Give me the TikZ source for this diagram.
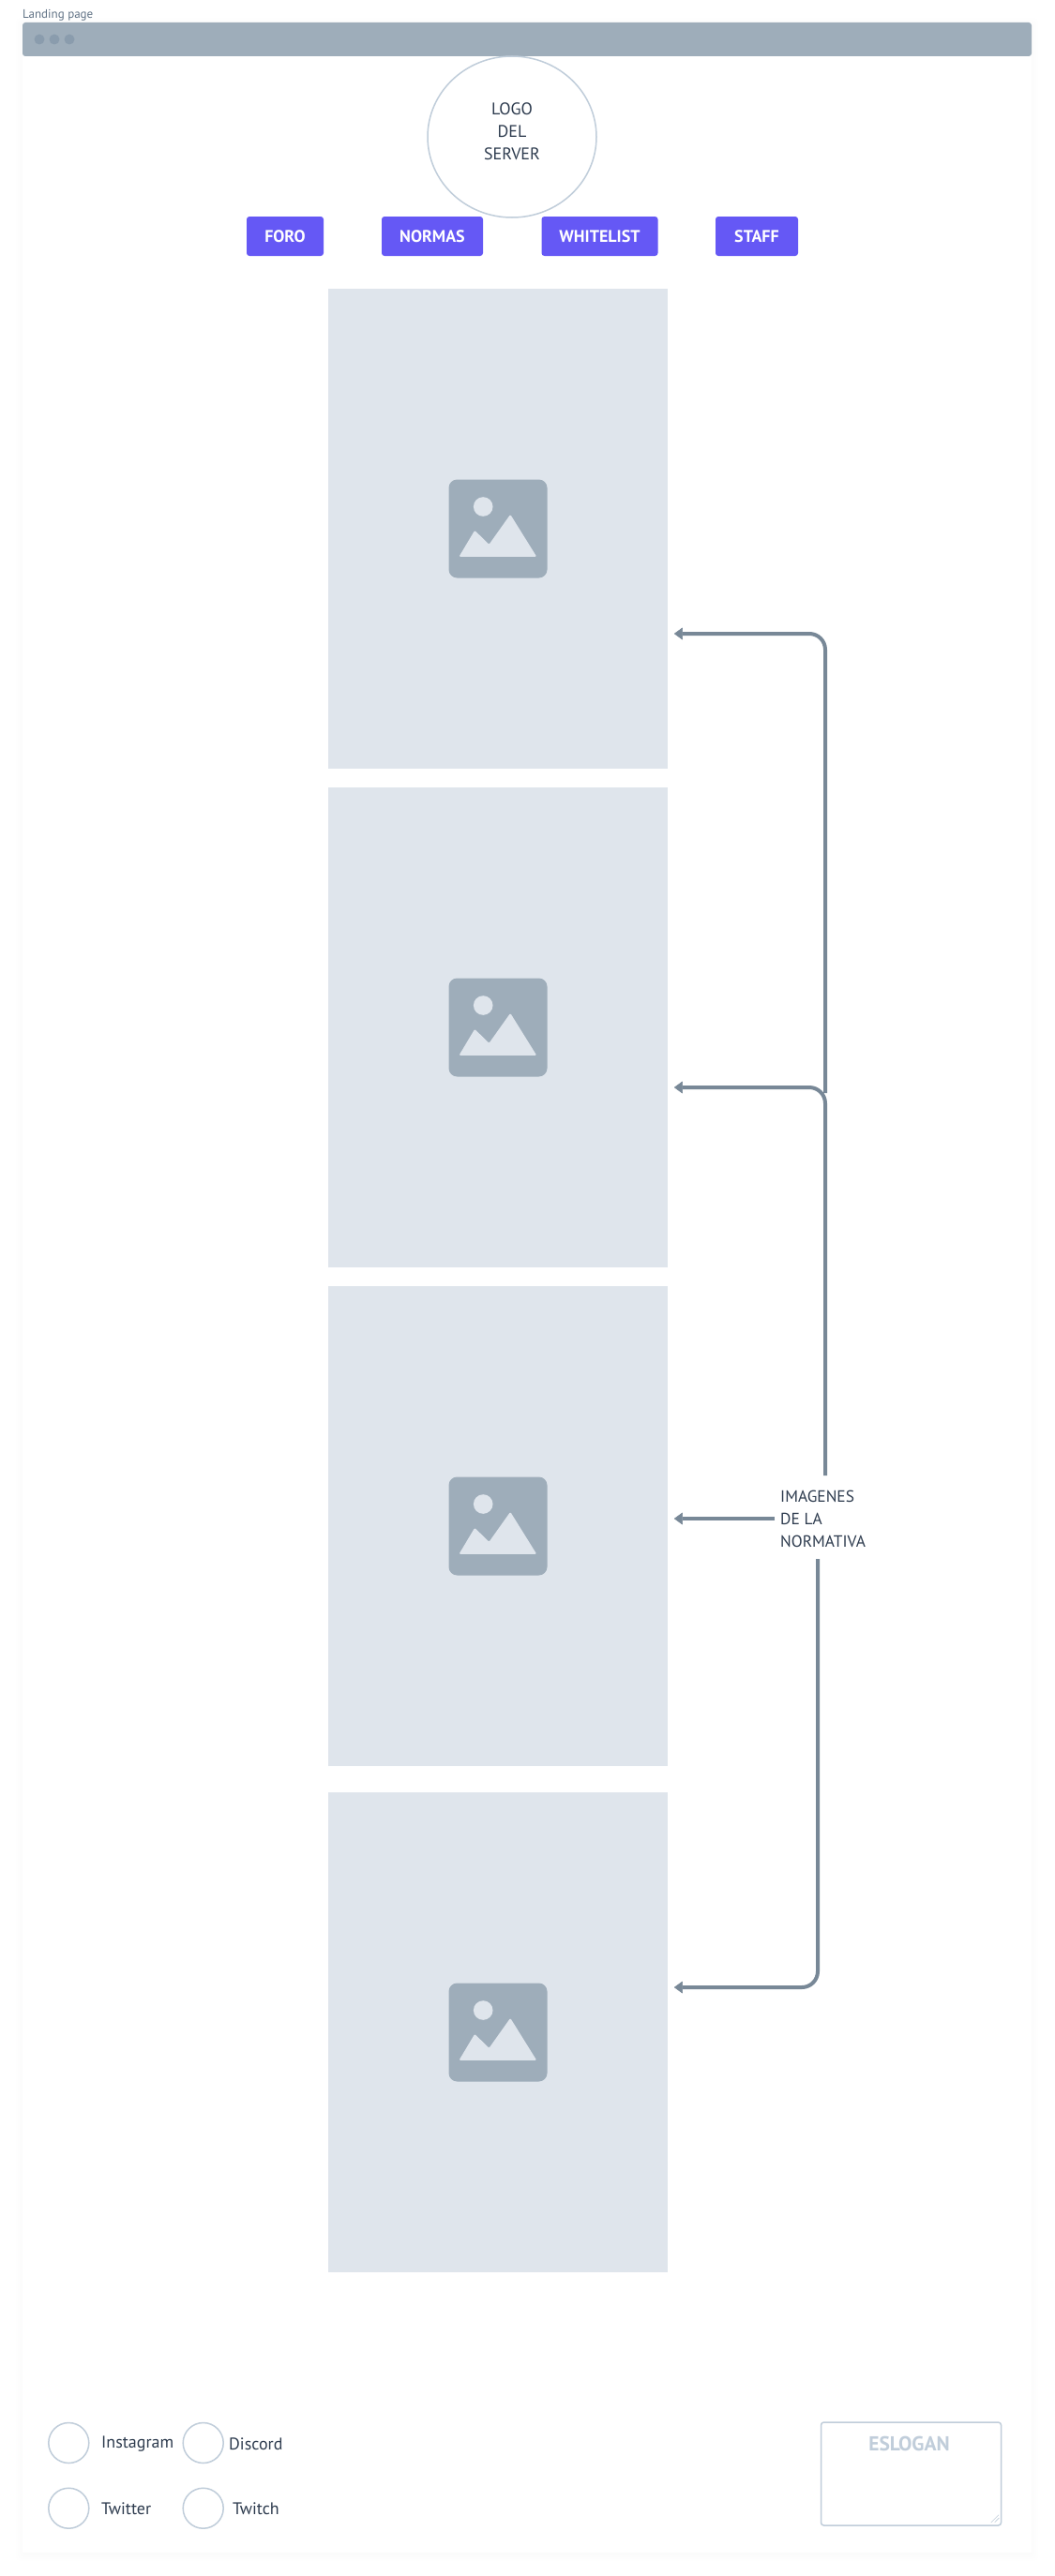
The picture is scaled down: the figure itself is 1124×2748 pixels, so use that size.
\documentclass[tikz,border=0pt]{standalone}
\usepackage{fontspec}
\setmainfont{PT Sans}
\usetikzlibrary{arrows.meta,shapes.geometric}
\definecolor{ink}{HTML}{2D3B4E}
\definecolor{bar}{HTML}{9EADBA}
\definecolor{dotc}{HTML}{8A9CAD}
\definecolor{btn}{HTML}{6558F5}
\definecolor{imgc}{HTML}{DFE5EC}
\definecolor{edge}{HTML}{C0CDDA}
\definecolor{conn}{HTML}{788897}
\definecolor{cap}{HTML}{5F7184}
\tikzset{
  x=1pt,y=-1pt,
  txt/.style={inner sep=0pt,text=ink,font=\fontsize{18}{24}\selectfont},
  btnbox/.style={fill=btn,rounded corners=3pt,minimum height=42pt,inner sep=0pt,text=white,font=\bfseries\fontsize{18}{20}\selectfont},
  imgbox/.style={rectangle,fill=imgc,minimum width=362pt,minimum height=512pt,inner sep=0pt},
  social/.style={circle,draw=edge,line width=1.5pt,minimum size=43pt,inner sep=0pt},
  link/.style={draw=conn,line width=4pt,rounded corners=17pt,-{Triangle[length=9pt,width=13pt,round,line width=0.5pt]}},
  imgicon/.pic={
    \fill[bar,rounded corners=9pt] (-52.5,-52.5) rectangle (52.5,52.5);
    \fill[imgc] (-15.8,-23.5) circle (10.3pt);
    \fill[imgc,rounded corners=1.2pt] (-41.5,29.8) -- (-24.8,1.8) -- (-9.5,16.8) -- (13.2,-15.2) -- (41.2,29.8) -- cycle;
  }
}
\begin{document}
\begin{tikzpicture}
\useasboundingbox (0,0) rectangle (1124,2748);
\fill[white] (0,0) rectangle (1124,2748);
% frame shadow
\foreach \d in {1,3,5,7}
  \fill[black,opacity=0.004,rounded corners=4pt] (24-\d,24-\d+2) rectangle (1100+\d,2723+\d+2);
\fill[white] (24,24) rectangle (1100,2723);
\fill[bar,rounded corners=3pt] (24,60) -- (24,24) -- (1100,24) -- (1100,60) -- cycle;
\fill[dotc] (42,42) circle (5.5pt) (58,42) circle (5.5pt) (74,42) circle (5.5pt);
\node[anchor=west,inner sep=0pt,text=cap,font=\fontsize{13}{15}\selectfont] (title) at (24,16) {Landing page};
% logo
\node[ellipse,draw=edge,line width=1.5pt,minimum width=180pt,minimum height=172pt,inner sep=0pt] (logo) at (546,146) {};
\node[txt,align=center] (logotext) at (546,140) {LOGO\\DEL\\SERVER};
% buttons
\node[btnbox,minimum width=82pt] (foro) at (304,252) {FORO};
\node[btnbox,minimum width=108pt] (normas) at (461,252) {NORMAS};
\node[btnbox,minimum width=124pt] (white) at (639.5,252) {WHITELIST};
\node[btnbox,minimum width=88pt] (staff) at (807,252) {STAFF};
% images
\node[imgbox] (img1) at (531,564) {};
\node[imgbox] (img2) at (531,1096) {};
\node[imgbox] (img3) at (531,1628) {};
\node[imgbox] (img4) at (531,2168) {};
\pic at (img1.center) {imgicon};
\pic at (img2.center) {imgicon};
\pic at (img3.center) {imgicon};
\pic at (img4.center) {imgicon};
% label
\node[txt,align=left,anchor=west,font=\fontsize{17.4}{24}\selectfont] (lab) at (832,1620) {IMAGENES\\DE LA\\NORMATIVA};
% connector ends
\coordinate (a1) at (719,676);
\coordinate (a2) at (719,1160);
\coordinate (a3) at (719,1620);
\coordinate (a4) at (719,2120);
\coordinate (c1) at (880,1166);
\coordinate (c2) at (880,1574);
\coordinate (c3) at (826,1620);
\coordinate (c4) at (872,1663);
\draw[link] (c1) -- (c1 |- a1) -- (a1);
\draw[link] (c2) -- (c2 |- a2) -- (a2);
\draw[link] (c3) -- (a3);
\draw[link] (c4) -- (c4 |- a4) -- (a4);
% footer
\node[social] (s1) at (73.3,2606) {};
\node[social] (s2) at (216.7,2606) {};
\node[social] (s3) at (73.3,2675.7) {};
\node[social] (s4) at (216.7,2675.7) {};
\node[txt,anchor=west] (t1) at (108,2607.5) {Instagram};
\node[txt,anchor=west] (t2) at (244,2607.5) {Discord};
\node[txt,anchor=west] (t3) at (108,2676.7) {Twitter};
\node[txt,anchor=west] (t4) at (248,2676.7) {Twitch};
% slogan
\node[rectangle,draw=edge,line width=1.5pt,rounded corners=3pt,minimum width=192pt,minimum height=110pt,inner sep=0pt] (area) at (971.5,2639) {};
\node[inner sep=0pt,text=edge,font=\bfseries\fontsize{21.5}{24}\selectfont] (slogan) at (969.5,2607) {ESLOGAN};
\draw[edge,line width=0.6pt] (1056.7,2691) -- (1065,2682.7) (1060.7,2690.7) -- (1065.3,2686);
\end{tikzpicture}
\end{document}
